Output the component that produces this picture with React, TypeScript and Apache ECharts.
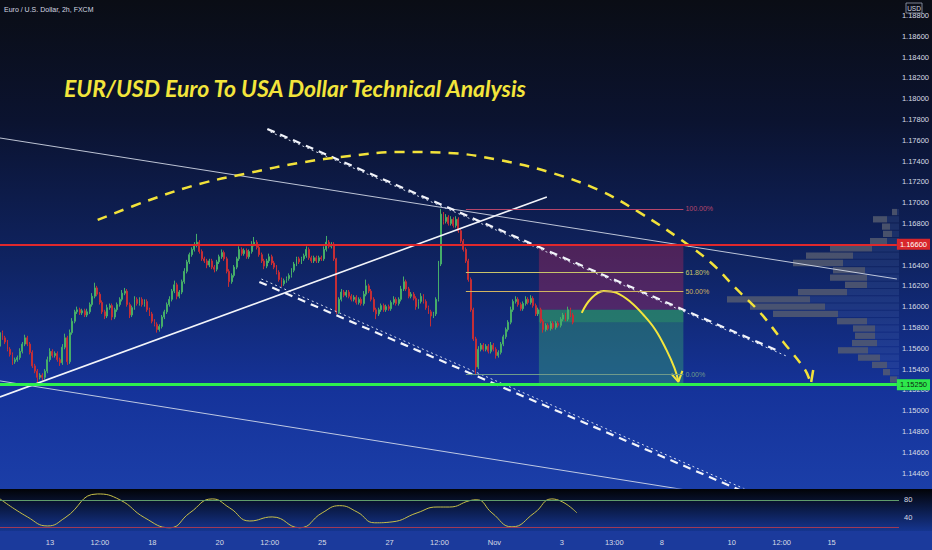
import React, { useEffect, useRef } from 'react';
import * as echarts from 'echarts';

// price scale of the main pane
const Y_MIN = 1.14256;
const Y_MAX = 1.18949;
const X_MAX = 360;

// 2h candles, open = previous close
const FIRST_OPEN = 1.1562;
const CLOSES = [
  1.1575, 1.1570, 1.1566, 1.1559, 1.1554, 1.1547, 1.1549, 1.1551, 1.1557, 1.1564,
  1.1570, 1.1564, 1.1556, 1.1543, 1.1538, 1.1532, 1.1534, 1.1532, 1.1538, 1.1549,
  1.1557, 1.1553, 1.1555, 1.1549, 1.1546, 1.1561, 1.1570, 1.1547, 1.1575, 1.1586,
  1.1595, 1.1597, 1.1594, 1.1596, 1.1592, 1.1595, 1.1602, 1.1610, 1.1618, 1.1612,
  1.1604, 1.1595, 1.1591, 1.1599, 1.1601, 1.1590, 1.1597, 1.1602, 1.1607, 1.1613,
  1.1615, 1.1602, 1.1592, 1.1599, 1.1607, 1.1603, 1.1607, 1.1602, 1.1605, 1.1597,
  1.1593, 1.1586, 1.1583, 1.1578, 1.1581, 1.1590, 1.1595, 1.1602, 1.1607, 1.1615,
  1.1621, 1.1610, 1.1614, 1.1624, 1.1634, 1.1643, 1.1650, 1.1655, 1.1659, 1.1662,
  1.1653, 1.1646, 1.1644, 1.1640, 1.1644, 1.1638, 1.1636, 1.1643, 1.1648, 1.1652,
  1.1646, 1.1634, 1.1624, 1.1630, 1.1638, 1.1646, 1.1655, 1.1651, 1.1654, 1.1648,
  1.1653, 1.1660, 1.1662, 1.1657, 1.1650, 1.1644, 1.1639, 1.1644, 1.1648, 1.1642,
  1.1638, 1.1633, 1.1626, 1.1622, 1.1625, 1.1627, 1.1630, 1.1635, 1.1641, 1.1646,
  1.1643, 1.1646, 1.1649, 1.1655, 1.1647, 1.1644, 1.1647, 1.1644, 1.1647, 1.1646,
  1.1655, 1.1662, 1.1658, 1.1660, 1.1646, 1.1595, 1.1607, 1.1614, 1.1611, 1.1614,
  1.1610, 1.1607, 1.1609, 1.1604, 1.1607, 1.1603, 1.1612, 1.1620, 1.1615, 1.1607,
  1.1597, 1.1593, 1.1597, 1.1601, 1.1597, 1.1600, 1.1598, 1.1604, 1.1607, 1.1603,
  1.1607, 1.1617, 1.1624, 1.1617, 1.1610, 1.1612, 1.1608, 1.1600, 1.1605, 1.1610,
  1.1605, 1.1599, 1.1595, 1.1591, 1.1593, 1.1607, 1.1641, 1.1689, 1.1682, 1.1686,
  1.1680, 1.1684, 1.1678, 1.1684, 1.1673, 1.1663, 1.1655, 1.1644, 1.1626, 1.1597,
  1.1569, 1.1542, 1.1559, 1.1563, 1.1559, 1.1562, 1.1557, 1.1563, 1.1559, 1.1553,
  1.1556, 1.1564, 1.1571, 1.1578, 1.1585, 1.1597, 1.1605, 1.1607, 1.1602, 1.1598,
  1.1603, 1.1607, 1.1604, 1.1608, 1.1601, 1.1593, 1.1597, 1.1586, 1.1578, 1.1582,
  1.1579, 1.1584, 1.1580, 1.1584, 1.1582, 1.1588, 1.1592, 1.1588, 1.1597, 1.1592,
  1.1585,
];
// wick lengths in pips
const UPPER_WICK = [
  10, 2, 2, 2, 2, 2, 2, 2, 3, 2, 3, 2, 2, 2, 2, 2, 2, 2, 2, 3,
  3, 2, 2, 2, 2, 3, 4, 2, 3, 3, 2, 3, 2, 2, 2, 3, 2, 3, 5, 2,
  2, 2, 2, 3, 2, 2, 2, 2, 2, 3, 3, 2, 2, 2, 3, 2, 2, 2, 2, 2,
  2, 2, 2, 2, 2, 2, 2, 2, 3, 2, 4, 2, 2, 2, 3, 2, 2, 2, 3, 8,
  2, 2, 2, 2, 2, 2, 2, 2, 2, 3, 2, 2, 2, 2, 2, 2, 3, 2, 2, 2,
  2, 3, 5, 2, 2, 2, 2, 2, 3, 2, 2, 2, 2, 2, 2, 2, 2, 2, 2, 2,
  2, 2, 2, 3, 2, 2, 2, 2, 2, 2, 3, 6, 2, 2, 2, 1, 2, 3, 2, 2,
  2, 2, 2, 2, 2, 2, 3, 6, 2, 2, 2, 2, 2, 2, 2, 2, 2, 2, 3, 2,
  2, 3, 5, 2, 2, 2, 2, 2, 2, 3, 2, 2, 2, 2, 2, 2, 3, 5, 2, 3,
  2, 3, 2, 3, 2, 2, 2, 2, 2, 2, 2, 2, 3, 2, 2, 2, 2, 3, 2, 2,
  2, 2, 2, 2, 2, 3, 2, 3, 2, 2, 2, 3, 2, 3, 2, 2, 2, 2, 2, 2,
  2, 2, 2, 2, 2, 2, 2, 2, 3, 2, 2,
];
const LOWER_WICK = [
  2, 2, 2, 2, 2, 3, 2, 2, 2, 2, 2, 2, 2, 2, 2, 5, 2, 3, 2, 2,
  2, 2, 2, 2, 3, 2, 2, 3, 2, 2, 2, 2, 2, 2, 2, 2, 2, 2, 2, 2,
  2, 2, 3, 2, 2, 3, 2, 2, 2, 2, 2, 2, 3, 2, 2, 2, 2, 2, 2, 2,
  2, 2, 2, 3, 2, 2, 2, 2, 2, 2, 2, 3, 2, 2, 2, 2, 2, 2, 2, 2,
  2, 2, 2, 3, 2, 2, 3, 2, 2, 2, 2, 2, 5, 2, 2, 2, 2, 2, 2, 2,
  2, 2, 2, 2, 2, 2, 3, 2, 2, 2, 2, 2, 2, 3, 2, 2, 2, 2, 2, 2,
  2, 2, 2, 2, 2, 2, 2, 2, 2, 2, 2, 2, 2, 2, 2, 2, 2, 2, 2, 2,
  2, 2, 2, 2, 2, 2, 2, 2, 2, 2, 2, 5, 2, 2, 2, 2, 2, 2, 2, 2,
  2, 2, 2, 2, 2, 2, 2, 3, 2, 2, 2, 2, 2, 10, 2, 2, 2, 2, 3, 2,
  2, 2, 2, 2, 2, 2, 2, 2, 2, 2, 2, 7, 2, 2, 2, 2, 2, 2, 2, 3,
  2, 2, 2, 2, 2, 2, 2, 2, 2, 2, 2, 2, 2, 2, 2, 2, 2, 2, 3, 2,
  2, 2, 2, 2, 2, 2, 2, 2, 2, 2, 2,
];

// 1.16600 is covered by the resistance tag, so it is not listed
const PRICE_TICKS = [
  1.144, 1.146, 1.148, 1.15, 1.152, 1.154, 1.156, 1.158, 1.16, 1.162, 1.164,
  1.168, 1.17, 1.172, 1.174, 1.176, 1.178, 1.18, 1.182, 1.184, 1.186, 1.188,
];
const TIME_TICKS = [20, 40, 61, 88, 108, 129, 156, 176, 198, 225, 246, 265, 293, 313, 333];
const TIME_LABELS = ['13', '12:00', '18', '20', '12:00', '25', '27', '12:00', 'Nov', '3', '13:00', '8', '10', '12:00', '15'];

// stochastic-like oscillator (turning points)
const OSC_X = [0, 11, 19, 26, 39, 48, 58, 68, 76, 85, 92, 100, 109, 120, 129, 136, 143, 150, 157, 167, 175, 180, 188, 191, 197, 205, 214, 221, 231];
const OSC_Y = [82, 42, 22, 40, 93, 80, 40, 18, 51, 82, 62, 33, 42, 18, 51, 67, 53, 29, 31, 51, 64, 64, 78, 80, 51, 20, 51, 82, 51];
const OSC_UPPER = 80;
const OSC_LOWER = 20;

// visible range volume profile
const VP_LEVELS = [
  1.1694, 1.1687, 1.1680, 1.1673, 1.1666, 1.1659, 1.1652, 1.1645, 1.1638, 1.1631, 1.1624, 1.1617,
  1.1610, 1.1603, 1.1596, 1.1589, 1.1582, 1.1575, 1.1568, 1.1561, 1.1554, 1.1547, 1.1540, 1.1533, 1.1526,
];
const VP_UP = [2, 12, 9, 7, 12, 27, 46, 56, 34, 32, 32, 52, 89, 74, 61, 32, 24, 24, 22, 31, 19, 12, 9, 2];
const VP_DOWN = [5, 14, 8, 9, 17, 42, 47, 50, 32, 37, 22, 49, 83, 75, 65, 30, 22, 20, 25, 30, 22, 15, 7, 7];

// levels
const RESISTANCE = 1.166;
const SUPPORT = 1.1525;
const ENTRY = 1.1597;
const COUNTDOWN = '43:27';

// fibonacci retracement
const FIB_START = 187;
const FIB_END = 274.3;
const FIB_PRICES = [1.1694, 1.16333, 1.16145, 1.1535];
const FIB_LABELS = ['100.00%', '61.80%', '50.00%', '0.00%'];
const FIB_COLORS = ['#b8466a', '#c9c46a', '#d2b460', '#6f9a8a'];

// position tool
const POS_START = 216.3;
const POS_END = 274.3;

// drawings, [bar index, price]
const TREND_HIGH = [[0, 1.17622], [360, 1.16266]];
const TREND_LOW = [[0, 1.15286], [280.3, 1.14218]];
const RISING = [[0, 1.15132], [219.5, 1.17055]];
const CHANNEL_TOP = [[107.3, 1.17709], [312.4, 1.15574]];
const CHANNEL_TOP_DOT = [[108.5, 1.1768], [316.4, 1.15517]];
const CHANNEL_BOTTOM = [[104.1, 1.16238], [300.4, 1.142]];
const CHANNEL_BOTTOM_DOT = [[104.9, 1.16266], [304.4, 1.1419]];
const ARC = [
  [39.2, 1.16834], [60.1, 1.17026], [80.1, 1.1718], [100.1, 1.17286], [120.1, 1.17382],
  [140.2, 1.17449], [160.2, 1.17487], [180.2, 1.17478], [200.2, 1.17411], [220.3, 1.17295],
  [240.3, 1.17122], [256.3, 1.16911], [273.5, 1.16641], [285.5, 1.1642], [295.2, 1.1618],
  [305.2, 1.1594], [314.4, 1.15661], [323.2, 1.15391], [325.2, 1.15276],
];
const ARC_HOOK = [[326.4, 1.15391], [325.6, 1.15276]];
const FORECAST = [
  [233.5, 1.1594], [237.1, 1.16074], [242.3, 1.16151], [247.5, 1.16132], [253.1, 1.16045],
  [258.3, 1.1592], [263.1, 1.15776], [267.5, 1.15584], [270.7, 1.15411], [272.3, 1.15286],
];
const FORECAST_HEAD = [[269.5, 1.15353], [272.3, 1.15276], [273.9, 1.15382]];

const AXIS_FONT = 'Liberation Sans';

function buildCandles() {
  return CLOSES.map((c, i) => {
    const o = i === 0 ? FIRST_OPEN : CLOSES[i - 1];
    const h = Math.max(o, c) + UPPER_WICK[i] * 0.0001;
    const l = Math.min(o, c) - LOWER_WICK[i] * 0.0001;
    return [i, o, c, l, h];
  });
}

function drawing(data: number[][], color: string, width: number, type: any = 'solid', smooth: any = false) {
  return {
    type: 'line',
    xAxisIndex: 0,
    yAxisIndex: 0,
    data,
    smooth,
    symbol: 'none',
    silent: true,
    z: 4,
    lineStyle: { color, width, type, cap: 'butt' },
  };
}

function priceTag(value: number, text: string, bg: string, fg: string, line: any) {
  return {
    yAxis: value,
    lineStyle: line,
    label: {
      show: true, position: 'end', distance: 0, formatter: text,
      backgroundColor: bg, color: fg, padding: [2, 3, 1, 3], fontSize: 7.5, fontFamily: AXIS_FONT,
    },
  };
}

function buildOption(): any {
  const mainBg = {
    type: 'linear', x: 0, y: 0, x2: 0, y2: 1,
    colorStops: [
      { offset: 0, color: '#0a0d15' },
      { offset: 0.25, color: '#0b1330' },
      { offset: 0.55, color: '#0f2464' },
      { offset: 0.8, color: '#15339a' },
      { offset: 1, color: '#1b3ea8' },
    ],
  };
  const oscBg = {
    type: 'linear', x: 0, y: 0, x2: 0, y2: 1,
    colorStops: [
      { offset: 0, color: '#020307' },
      { offset: 1, color: '#15358f' },
    ],
  };

  return {
    animation: false,
    graphic: [
      { type: 'rect', z: -10, silent: true, shape: { x: 0, y: 0, width: 932, height: 489 }, style: { fill: mainBg } },
      { type: 'rect', z: -10, silent: true, shape: { x: 0, y: 489, width: 932, height: 42 }, style: { fill: oscBg } },
      { type: 'rect', z: -10, silent: true, shape: { x: 0, y: 531, width: 932, height: 19 }, style: { fill: '#1b3a9c' } },
      {
        type: 'text', z: 50, x: 4, y: 9,
        style: { text: 'Euro / U.S. Dollar, 2h, FXCM', fill: '#d4d8e2', fontSize: 7, fontFamily: AXIS_FONT, verticalAlign: 'middle' },
      },
      {
        type: 'text', z: 50, x: 64, y: 88,
        style: {
          text: 'EUR/USD Euro To USA Dollar Technical Analysis',
          fill: '#f3e53b', fontSize: 23, fontStyle: 'italic', fontWeight: 'bold', fontFamily: 'Lato', verticalAlign: 'middle',
        },
      },
      { type: 'rect', z: 50, shape: { x: 906, y: 3, width: 16, height: 10 }, style: { fill: 'none', stroke: '#9aa2b4', lineWidth: 0.8 } },
      {
        type: 'text', z: 50, x: 914, y: 8,
        style: { text: 'USD', fill: '#d4d8e2', fontSize: 6.5, fontFamily: AXIS_FONT, align: 'center', verticalAlign: 'middle' },
      },
    ],
    grid: [
      { left: 0, right: 33, top: 0, height: 488 },
      { left: 0, right: 33, top: 489, height: 41 },
      { left: 499, right: 33, top: 0, height: 488 },
    ],
    xAxis: [
      { type: 'value', gridIndex: 0, min: 0, max: X_MAX, show: false },
      {
        type: 'value', gridIndex: 1, min: 0, max: X_MAX,
        axisLine: { show: false }, axisTick: { show: false }, splitLine: { show: false },
        axisLabel: {
          customValues: TIME_TICKS,
          formatter: (v: number) => TIME_LABELS[TIME_TICKS.indexOf(v)] ?? '',
          color: '#d8dce6', fontSize: 7.5, fontFamily: AXIS_FONT, margin: 8,
        },
      },
      { type: 'value', gridIndex: 2, min: 0, max: 400, inverse: true, show: false },
    ],
    yAxis: [
      {
        type: 'value', gridIndex: 0, position: 'right', min: Y_MIN, max: Y_MAX,
        axisLine: { show: false }, axisTick: { show: false }, splitLine: { show: false },
        axisLabel: {
          customValues: PRICE_TICKS,
          formatter: (v: number) => v.toFixed(5),
          color: '#d8dce6', fontSize: 7.5, fontFamily: AXIS_FONT, margin: 5,
        },
      },
      {
        type: 'value', gridIndex: 1, position: 'right', min: 13, max: 104,
        axisLine: { show: false }, axisTick: { show: false }, splitLine: { show: false },
        axisLabel: { customValues: [40, 80], color: '#d8dce6', fontSize: 7.5, fontFamily: AXIS_FONT, margin: 5 },
      },
      { type: 'value', gridIndex: 2, min: Y_MIN, max: Y_MAX, show: false },
    ],
    series: [
      {
        // volume profile, grows from the right edge
        type: 'custom',
        xAxisIndex: 2,
        yAxisIndex: 2,
        silent: true,
        z: 1,
        data: VP_UP.map((u, k) => [u, VP_DOWN[k], VP_LEVELS[k], VP_LEVELS[k + 1]]),
        renderItem: (params: any, api: any) => {
          const up = api.value(0);
          const down = api.value(1);
          const pR = api.coord([0, api.value(2)]);
          const pM = api.coord([up, api.value(2)]);
          const pL = api.coord([up + down, api.value(3)]);
          const h = pL[1] - pR[1] - 1;
          return {
            type: 'group',
            children: [
              { type: 'rect', shape: { x: pM[0], y: pR[1], width: pR[0] - pM[0], height: h }, style: { fill: 'rgba(110,140,210,0.15)' } },
              { type: 'rect', shape: { x: pL[0], y: pR[1], width: pM[0] - pL[0], height: h }, style: { fill: 'rgba(88,94,112,0.8)' } },
            ],
          };
        },
      },
      {
        // position tool + fibonacci
        type: 'line',
        xAxisIndex: 0,
        yAxisIndex: 0,
        data: [],
        z: 1,
        silent: true,
        markArea: {
          silent: true,
          data: [
            [{ coord: [POS_START, RESISTANCE], itemStyle: { color: 'rgba(190,40,85,0.36)' } }, { coord: [POS_END, ENTRY] }],
            [{ coord: [POS_START, ENTRY], itemStyle: { color: 'rgba(60,185,110,0.36)' } }, { coord: [POS_END, SUPPORT] }],
            [{ coord: [POS_START, ENTRY], itemStyle: { color: 'rgba(50,170,95,0.35)' } }, { coord: [POS_END, CLOSES[CLOSES.length - 1]] }],
          ],
        },
        markLine: {
          silent: true,
          precision: 5,
          symbol: ['none', 'none'],
          data: FIB_PRICES.map((p, k) => [
            {
              coord: [FIB_START, p],
              lineStyle: { color: FIB_COLORS[k], width: 1, type: 'solid' },
              label: {
                show: true, position: 'end', distance: 2, formatter: FIB_LABELS[k],
                color: FIB_COLORS[k], fontSize: 7, fontFamily: AXIS_FONT,
              },
            },
            { coord: [FIB_END, p] },
          ]),
        },
      },
      {
        type: 'candlestick',
        xAxisIndex: 0,
        yAxisIndex: 0,
        data: buildCandles(),
        barWidth: 1.4,
        z: 3,
        silent: true,
        itemStyle: {
          color: '#45ad69',
          color0: '#c42e36',
          borderColor: '#45ad69',
          borderColor0: '#c42e36',
          borderWidth: 1,
        },
      },
      drawing(TREND_HIGH, 'rgba(220,226,238,0.85)', 1),
      drawing(TREND_LOW, 'rgba(220,226,238,0.85)', 1),
      drawing(RISING, '#f2f4fa', 1.6),
      drawing(CHANNEL_TOP, '#f2f4fa', 2.2, [8, 6]),
      drawing(CHANNEL_TOP_DOT, 'rgba(230,236,248,0.9)', 1, [2, 3]),
      drawing(CHANNEL_BOTTOM, '#f2f4fa', 2.2, [8, 6]),
      drawing(CHANNEL_BOTTOM_DOT, 'rgba(230,236,248,0.9)', 1, [2, 3]),
      drawing(ARC, '#f2e23a', 2.5, [10, 8], 0.4),
      drawing(ARC_HOOK, '#f2e23a', 2.5),
      drawing(FORECAST, '#f4e53c', 2, 'solid', 0.4),
      drawing(FORECAST_HEAD, '#f4e53c', 2),
      {
        // horizontal levels with price tags
        type: 'line',
        xAxisIndex: 0,
        yAxisIndex: 0,
        data: [],
        z: 5,
        silent: true,
        markLine: {
          silent: true,
          precision: 5,
          symbol: ['none', 'none'],
          data: [
            priceTag(RESISTANCE, '1.16600', '#d8262b', '#ffffff', { color: '#e0282c', width: 2, type: 'solid' }),
            priceTag(SUPPORT, '1.15250', '#2ee84c', '#0c2a12', { color: '#2ef04e', width: 3, type: 'solid' }),
            priceTag(CLOSES[CLOSES.length - 1], COUNTDOWN, '#6c9de8', '#24489a', { width: 0, opacity: 0 }),
          ],
        },
      },
      {
        type: 'line',
        xAxisIndex: 1,
        yAxisIndex: 1,
        data: OSC_X.map((x, i) => [x, OSC_Y[i]]),
        smooth: 0.5,
        symbol: 'none',
        silent: true,
        lineStyle: { color: '#c8c048', width: 1 },
        markLine: {
          silent: true,
          precision: 2,
          symbol: ['none', 'none'],
          label: { show: false },
          data: [
            { yAxis: OSC_UPPER, lineStyle: { color: '#5f9c6c', width: 1, type: 'solid' } },
            { yAxis: OSC_LOWER, lineStyle: { color: '#a03a55', width: 1, type: 'solid' } },
          ],
        },
      },
    ],
  };
}

export default function App() {
  const chartRef = useRef<HTMLDivElement>(null);

  useEffect(() => {
    document.body.style.margin = '0';
    if (!chartRef.current) return;
    const chart = echarts.init(chartRef.current, null, { renderer: 'svg' });
    chart.setOption(buildOption());
    return () => {
      chart.dispose();
    };
  }, []);

  return <div ref={chartRef} style={{ width: 932, height: 550 }} />;
}
